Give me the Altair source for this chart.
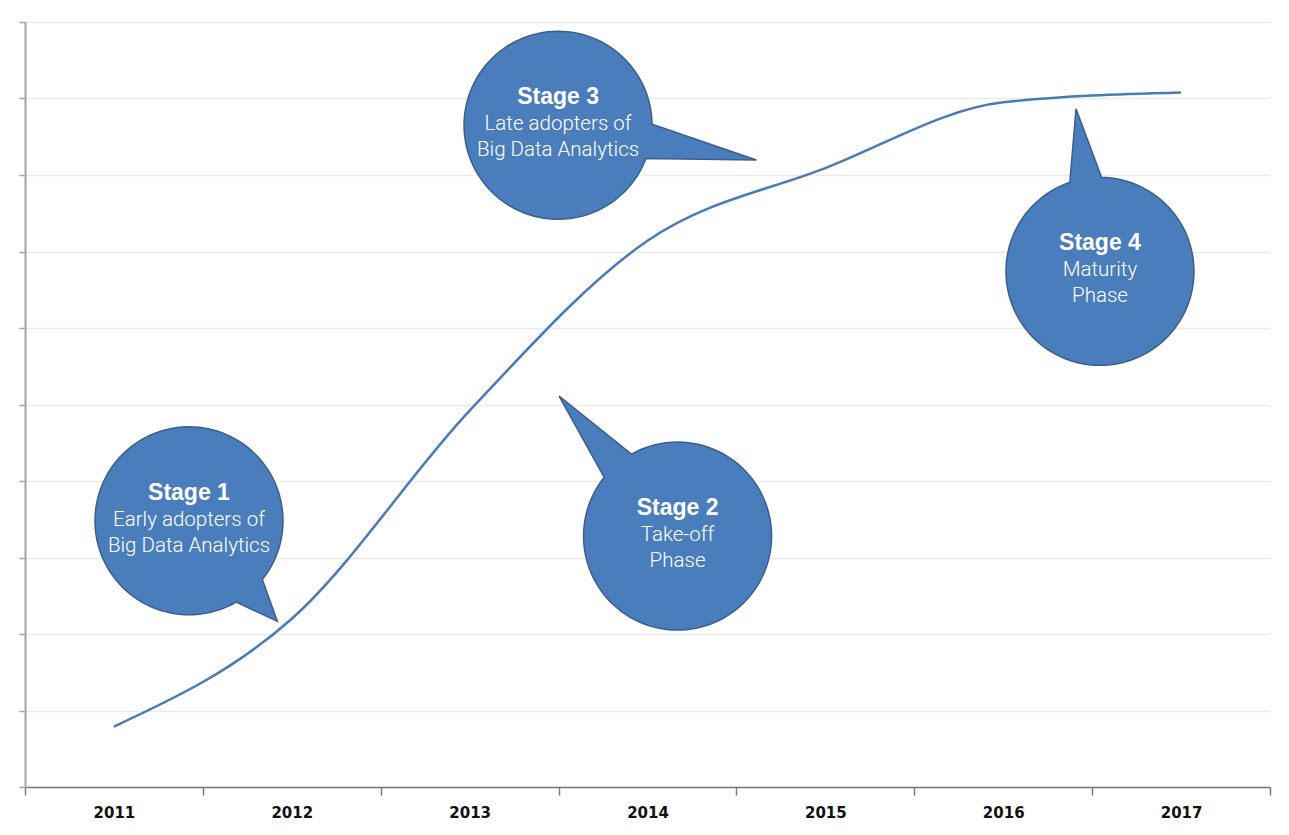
import math
import altair as alt
import pandas as pd

# ---------------- data ----------------
years = ["2011", "2012", "2013", "2014", "2015", "2016", "2017"]
adoption = [0.79, 2.20, 4.92, 7.14, 8.09, 8.95, 9.08]

stage_titles = ["Stage 1", "Stage 2", "Stage 3", "Stage 4"]
stage_line1 = ["Early adopters of", "Take-off", "Late adopters of", "Maturity"]
stage_line2 = ["Big Data Analytics", "Phase", "Big Data Analytics", "Phase"]
# bubble centres, x in year-band units from the left edge, y in value units
stage_x = [0.922, 3.669, 2.997, 6.044]
stage_y = [3.48, 3.28, 8.65, 6.74]

# ---------------- bubble shapes (style) ----------------
# (start angle, end angle, tail tip x, tail tip y) in units of the radius, screen coords
tail_geom = [
    (38.7, 59.9, 0.94, 1.07),
    (218.7, 240.6, -1.26, -1.49),
    (-0.6, 20.7, 2.11, 0.37),
    (-108.7, -89.0, -0.255, -1.73),
]


def bubble_path(a1, a2, tx, ty):
    pts = []
    pts.append((math.cos(math.radians(a1)), math.sin(math.radians(a1))))
    pts.append((tx, ty))
    a = a2
    end = a1 + 360
    while a < end:
        pts.append((math.cos(math.radians(a)), math.sin(math.radians(a))))
        a += 3
    s = "M" + " L".join(f"{x:.4f} {y:.4f}" for x, y in pts) + " Z"
    return s


paths = [bubble_path(*g) for g in tail_geom]

BUBBLE_R = 94
LINE_COLOR = "#4a7bb7"
FILL = "#4a7dbb"
EDGE = "#3a5f8e"

line_df = pd.DataFrame({"year": years, "value": adoption})
ann_df = pd.DataFrame({
    "stage": stage_titles,
    "x": stage_x,
    "value": stage_y,
    "line1": stage_line1,
    "line2": stage_line2,
})

yscale = alt.Scale(domain=[0, 10], nice=False, zero=True)
y_axis = alt.Axis(
    title=None, labels=False, values=list(range(11)), grid=True,
    gridColor="#ebebeb", gridWidth=1.5, domainColor="#a3a3a3", domainWidth=2,
    tickColor="#a3a3a3", tickSize=6, tickWidth=1.5,
)

line = alt.Chart(line_df).mark_line(
    interpolate="monotone", color=LINE_COLOR, strokeWidth=2.5
).encode(
    x=alt.X(
        "year:O",
        scale=alt.Scale(type="band", paddingInner=0, paddingOuter=0),
        bandPosition=0.5,
        axis=alt.Axis(
            title=None, labelAngle=0, tickBand="extent", grid=False,
            domainColor="#7a7a7a", domainWidth=1.5, tickColor="#7a7a7a",
            tickSize=8, tickWidth=1.5, labelFont="DejaVu Sans",
            labelFontWeight="bold", labelFontSize=15, labelColor="#111111",
            labelPadding=10,
        ),
    ),
    y=alt.Y("value:Q", scale=yscale, axis=y_axis),
)

xq = alt.X("x:Q", scale=alt.Scale(domain=[0, 7], nice=False, zero=False), axis=None)
yq = alt.Y("value:Q", scale=yscale, axis=y_axis)

bubbles = alt.Chart(ann_df).mark_point(
    filled=True, size=(2 * BUBBLE_R) ** 2, opacity=1, fill=FILL,
    stroke=EDGE, strokeWidth=1.5, fillOpacity=1, strokeOpacity=1,
).encode(
    x=xq, y=yq,
    shape=alt.Shape("stage:N", scale=alt.Scale(domain=stage_titles, range=paths), legend=None),
)

title_txt = alt.Chart(ann_df).mark_text(
    font="Liberation Sans", fontWeight="bold", fontSize=23, color="white",
    dy=-28, baseline="middle", align="center",
).encode(x=xq, y=yq, text="stage:N")

l1_txt = alt.Chart(ann_df).mark_text(
    font="Roboto", fontWeight=300, fontSize=20.5, color="white",
    dy=-1, baseline="middle", align="center",
).encode(x=xq, y=yq, text="line1:N")

l2_txt = alt.Chart(ann_df).mark_text(
    font="Roboto", fontWeight=300, fontSize=20.5, color="white",
    dy=25, baseline="middle", align="center",
).encode(x=xq, y=yq, text="line2:N")

annotations = alt.layer(bubbles, title_txt, l1_txt, l2_txt)

chart = alt.layer(line, annotations).resolve_scale(x="independent").properties(
    width=1245, height=765, autosize="none",
    padding={"left": 25, "top": 22, "right": 19, "bottom": 48},
    background="white",
).configure_view(stroke=None)

chart.save("out.html", embed_options={"renderer": "svg", "actions": False})
